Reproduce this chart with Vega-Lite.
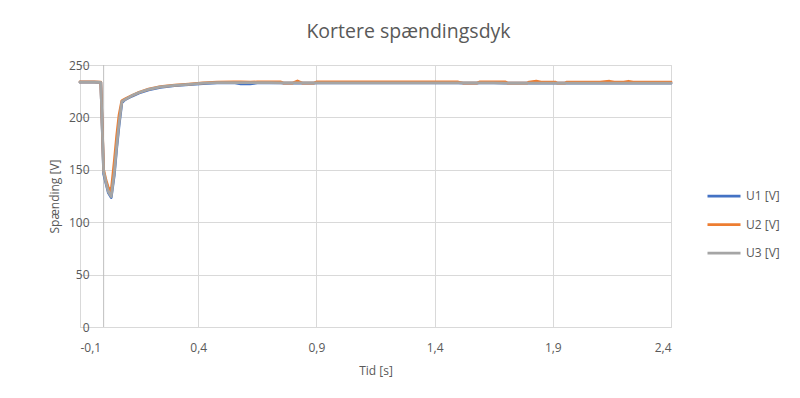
{
  "$schema": "https://vega.github.io/schema/vega-lite/v6.json",
  "width": 591,
  "height": 262,
  "autosize": {"type": "none"},
  "padding": {"left": 80, "top": 65, "right": 129, "bottom": 71},
  "background": "white",
  "config": {"view": {"stroke": "#D9D9D9"}, "font": "Open Sans"},
  "title": {"text": "Kortere spændingsdyk", "fontSize": 19.5, "font": "Open Sans", "fontWeight": "normal", "color": "#595959", "offset": 17, "dx": 33, "anchor": "middle"},
  "data": {"values": [
    {"t": -0.1, "U1": 233.6, "U2": 233.8, "U3": 233.6},
    {"t": -0.07, "U1": 233.6, "U2": 233.8, "U3": 233.6},
    {"t": -0.04, "U1": 233.6, "U2": 233.8, "U3": 233.6},
    {"t": -0.012, "U1": 233.5, "U2": 233.7, "U3": 233.5},
    {"t": 0.0, "U1": 146, "U2": 150, "U3": 148},
    {"t": 0.01, "U1": 137, "U2": 140, "U3": 138},
    {"t": 0.02, "U1": 128, "U2": 133, "U3": 129},
    {"t": 0.032, "U1": 123.5, "U2": 130, "U3": 124.5},
    {"t": 0.045, "U1": 145, "U2": 158, "U3": 147},
    {"t": 0.055, "U1": 170, "U2": 182, "U3": 172},
    {"t": 0.065, "U1": 192, "U2": 202, "U3": 194},
    {"t": 0.077, "U1": 214, "U2": 216, "U3": 215},
    {"t": 0.09, "U1": 216.8, "U2": 217.5, "U3": 217},
    {"t": 0.12, "U1": 220.3, "U2": 221, "U3": 220.8},
    {"t": 0.15, "U1": 223.3, "U2": 224, "U3": 223.8},
    {"t": 0.19, "U1": 226.3, "U2": 227, "U3": 226.8},
    {"t": 0.24, "U1": 228.6, "U2": 229.3, "U3": 229.1},
    {"t": 0.3, "U1": 230.2, "U2": 230.8, "U3": 230.6},
    {"t": 0.36, "U1": 231.2, "U2": 231.8, "U3": 231.6},
    {"t": 0.42, "U1": 232.2, "U2": 232.9, "U3": 232.6},
    {"t": 0.48, "U1": 232.9, "U2": 233.6, "U3": 233.2},
    {"t": 0.55, "U1": 233.1, "U2": 233.8, "U3": 233.3},
    {"t": 0.58, "U1": 232.0, "U2": 233.8, "U3": 233.2},
    {"t": 0.62, "U1": 232.0, "U2": 233.7, "U3": 233.2},
    {"t": 0.65, "U1": 233.0, "U2": 233.8, "U3": 233.2},
    {"t": 0.7, "U1": 233.0, "U2": 233.8, "U3": 233.2},
    {"t": 0.75, "U1": 233.0, "U2": 233.8, "U3": 233.0},
    {"t": 0.76, "U1": 232.8, "U2": 232.8, "U3": 232.9},
    {"t": 0.8, "U1": 232.8, "U2": 232.8, "U3": 232.9},
    {"t": 0.82, "U1": 232.8, "U2": 234.8, "U3": 232.9},
    {"t": 0.84, "U1": 232.8, "U2": 232.8, "U3": 232.9},
    {"t": 0.89, "U1": 232.8, "U2": 232.8, "U3": 232.9},
    {"t": 0.9, "U1": 232.9, "U2": 233.8, "U3": 233.0},
    {"t": 1.0, "U1": 232.9, "U2": 233.8, "U3": 233.0},
    {"t": 1.1, "U1": 232.9, "U2": 233.8, "U3": 233.0},
    {"t": 1.2, "U1": 232.9, "U2": 233.8, "U3": 233.0},
    {"t": 1.3, "U1": 232.9, "U2": 233.8, "U3": 233.0},
    {"t": 1.4, "U1": 232.9, "U2": 233.8, "U3": 233.0},
    {"t": 1.5, "U1": 232.9, "U2": 233.8, "U3": 233.0},
    {"t": 1.52, "U1": 232.8, "U2": 232.8, "U3": 232.9},
    {"t": 1.58, "U1": 232.8, "U2": 232.8, "U3": 232.9},
    {"t": 1.59, "U1": 232.9, "U2": 233.8, "U3": 233.0},
    {"t": 1.65, "U1": 232.9, "U2": 233.8, "U3": 233.0},
    {"t": 1.7, "U1": 232.8, "U2": 233.8, "U3": 232.8},
    {"t": 1.71, "U1": 232.6, "U2": 232.6, "U3": 232.7},
    {"t": 1.79, "U1": 232.6, "U2": 232.6, "U3": 232.7},
    {"t": 1.8, "U1": 232.6, "U2": 233.7, "U3": 232.7},
    {"t": 1.83, "U1": 232.6, "U2": 234.6, "U3": 232.7},
    {"t": 1.85, "U1": 232.6, "U2": 233.7, "U3": 232.7},
    {"t": 1.91, "U1": 232.6, "U2": 233.7, "U3": 232.7},
    {"t": 1.92, "U1": 232.6, "U2": 232.6, "U3": 232.7},
    {"t": 1.95, "U1": 232.6, "U2": 232.6, "U3": 232.7},
    {"t": 1.96, "U1": 232.6, "U2": 233.7, "U3": 232.7},
    {"t": 2.0, "U1": 232.6, "U2": 233.7, "U3": 232.7},
    {"t": 2.05, "U1": 232.6, "U2": 233.7, "U3": 232.7},
    {"t": 2.1, "U1": 232.6, "U2": 233.7, "U3": 232.7},
    {"t": 2.14, "U1": 232.6, "U2": 234.5, "U3": 232.7},
    {"t": 2.16, "U1": 232.6, "U2": 233.7, "U3": 232.7},
    {"t": 2.2, "U1": 232.6, "U2": 233.7, "U3": 232.7},
    {"t": 2.22, "U1": 232.6, "U2": 234.5, "U3": 232.7},
    {"t": 2.24, "U1": 232.6, "U2": 233.7, "U3": 232.7},
    {"t": 2.3, "U1": 232.6, "U2": 233.7, "U3": 232.7},
    {"t": 2.35, "U1": 232.6, "U2": 233.7, "U3": 232.7},
    {"t": 2.4, "U1": 232.6, "U2": 233.7, "U3": 232.7}
  ]},
  "layer": [
    {
      "data": {"values": [{"t": 0}]},
      "mark": {"type": "rule", "color": "#BFBFBF", "strokeWidth": 1},
      "encoding": {"x": {"field": "t", "type": "quantitative"}}
    },
    {
      "transform": [{"fold": ["U1", "U2", "U3"], "as": ["serie", "v"]}],
      "mark": {"type": "line", "strokeWidth": 2.75, "strokeCap": "round", "strokeJoin": "round"},
      "encoding": {
        "x": {
          "field": "t", "type": "quantitative",
          "scale": {"domain": [-0.1, 2.4], "nice": false, "zero": false},
          "axis": {
            "title": "Tid [s]",
            "values": [-0.1, 0.4, 0.9, 1.4, 1.9, 2.4],
            "labelExpr": "replace(replace(format(datum.value, '.1f'), '.', ','), '−', '-')",
            "grid": true, "gridColor": "#D9D9D9",
            "domain": true, "domainColor": "#D9D9D9",
            "ticks": false, "labelPadding": 15,
            "labelColor": "#595959", "labelFontSize": 12, "labelFont": "Open Sans",
            "titleColor": "#595959", "titleFontSize": 12, "titleFont": "Open Sans", "titleFontWeight": "normal",
            "titlePadding": 12
          }
        },
        "y": {
          "field": "v", "type": "quantitative",
          "scale": {"domain": [0, 250], "nice": false},
          "axis": {
            "title": "Spænding [V]",
            "values": [0, 50, 100, 150, 200, 250],
            "grid": true, "gridColor": "#D9D9D9",
            "domain": false, "ticks": false, "labelPadding": -9,
            "labelColor": "#595959", "labelFontSize": 12, "labelFont": "Open Sans",
            "titleColor": "#595959", "titleFontSize": 12, "titleFont": "Open Sans", "titleFontWeight": "normal",
            "titleX": -26, "titleY": 131, "titleAngle": -90, "titleAlign": "center", "titleBaseline": "middle"
          }
        },
        "color": {
          "field": "serie", "type": "nominal",
          "scale": {"domain": ["U1", "U2", "U3"], "range": ["#4472C4", "#ED7D31", "#A5A5A5"]},
          "legend": {
            "orient": "none", "legendX": 626, "legendY": 123,
            "title": null, "symbolType": "stroke", "symbolSize": 1089, "symbolStrokeWidth": 2.75,
            "labelExpr": "datum.label + ' [V]'", "labelFontSize": 12, "labelColor": "#595959", "labelFont": "Open Sans",
            "clipHeight": 16, "rowPadding": 12.5, "labelOffset": 4
          }
        }
      }
    }
  ]
}
